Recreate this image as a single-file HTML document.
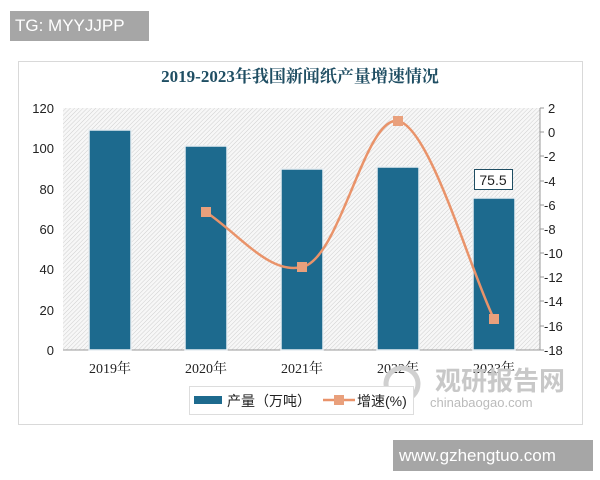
<!DOCTYPE html>
<html><head><meta charset="utf-8"><style>
body{margin:0;width:600px;height:480px;background:#fff;overflow:hidden;position:relative;font-family:"Liberation Sans","Noto Sans CJK SC",sans-serif}
.tg{position:absolute;left:10px;top:11px;width:139px;height:30px;background:#a6a6a6;color:#fff;font-size:17px;line-height:30px;padding-left:5px;box-sizing:border-box}
.ww{position:absolute;left:393px;top:440px;width:200px;height:31px;background:#a6a6a6;color:#fff;font-size:17px;line-height:31px;padding-left:6px;box-sizing:border-box}
</style></head><body>
<div class="tg">TG: MYYJJPP</div>
<svg width="600" height="480" style="position:absolute;left:0;top:0">
<defs><pattern id="h" width="3" height="3" patternUnits="userSpaceOnUse" patternTransform="rotate(45)"><rect width="3" height="3" fill="#f7f7f7"/><line x1="0" y1="0" x2="0" y2="3" stroke="#cfcfcf" stroke-width="1"/></pattern></defs>
<rect x="18.5" y="61.5" width="564" height="363" fill="#fff" stroke="#d9d9d9"/>
<text x="300" y="82" text-anchor="middle" font-family="Liberation Serif,Noto Serif CJK SC,serif" font-size="17" font-weight="bold" fill="#1f4e63">2019-2023年我国新闻纸产量增速情况</text>
<rect x="63" y="108" width="477" height="242" fill="url(#h)"/>
<line x1="63" y1="350" x2="540" y2="350" stroke="#999"/>
<line x1="540" y1="108" x2="540" y2="350" stroke="#999"/>
<g font-size="13" fill="#222" text-anchor="end">
<text x="54" y="113">120</text><text x="54" y="153">100</text><text x="54" y="194">80</text><text x="54" y="234">60</text><text x="54" y="274">40</text><text x="54" y="315">20</text><text x="54" y="355">0</text></g>
<g font-size="13" fill="#222">
<text x="548" y="113">2</text><text x="548" y="137">0</text><text x="544" y="161">-2</text><text x="544" y="186">-4</text><text x="544" y="210">-6</text><text x="544" y="234">-8</text><text x="544" y="258">-10</text><text x="544" y="282">-12</text><text x="544" y="306">-14</text><text x="544" y="331">-16</text><text x="544" y="355">-18</text></g>
<g stroke="#999"><line x1="540" y1="108" x2="544" y2="108"/><line x1="540" y1="132" x2="544" y2="132"/><line x1="540" y1="156" x2="544" y2="156"/><line x1="540" y1="181" x2="544" y2="181"/><line x1="540" y1="205" x2="544" y2="205"/><line x1="540" y1="229" x2="544" y2="229"/><line x1="540" y1="253" x2="544" y2="253"/><line x1="540" y1="277" x2="544" y2="277"/><line x1="540" y1="301" x2="544" y2="301"/><line x1="540" y1="326" x2="544" y2="326"/><line x1="540" y1="350" x2="544" y2="350"/></g>
<g fill="#1d6a8e" stroke="#e8eef2" stroke-width="1.5">
<rect x="89" y="130" width="42" height="220"/>
<rect x="185" y="146" width="42" height="204"/>
<rect x="281" y="169" width="42" height="181"/>
<rect x="377" y="167" width="42" height="183"/>
<rect x="473" y="198" width="42" height="152"/></g>
<path d="M206,212 C240,235 270,275 302,267 C340,260 365,115 398,121 C430,127 470,270 494,319" fill="none" stroke="#e9936a" stroke-width="2.5"/>
<g fill="#e9a07c"><rect x="201" y="207" width="10" height="10"/><rect x="297" y="262" width="10" height="10"/><rect x="393" y="116" width="10" height="10"/><rect x="489" y="314" width="10" height="10"/></g>
<rect x="474.5" y="169.5" width="38" height="20" fill="#fff" stroke="#1f4e63"/>
<text x="493" y="185" text-anchor="middle" font-size="14" fill="#222">75.5</text>
<g font-size="14" fill="#222" text-anchor="middle" font-family="Liberation Serif,Noto Serif CJK SC,serif">
<text x="110" y="373">2019年</text><text x="206" y="373">2020年</text><text x="302" y="373">2021年</text><text x="398" y="373">2022年</text><text x="494" y="373">2023年</text></g>
<text x="500" y="390" text-anchor="middle" font-size="26" font-weight="bold" fill="#c8c8c8">观研报告网</text>
<text x="430" y="407" font-size="13" fill="#bbb">chinabaogao.com</text>
<circle cx="402" cy="384" r="16" fill="none" stroke="#d0d0d0" stroke-width="5"/>
<rect x="189.5" y="386.5" width="224" height="28" fill="#fff" stroke="#ddd"/>
<rect x="194" y="396" width="28" height="8" fill="#1d6a8e"/>
<text x="227" y="406" font-size="14" fill="#222">产量（万吨）</text>
<line x1="323" y1="400" x2="355" y2="400" stroke="#e9936a" stroke-width="2.5"/>
<rect x="334" y="395" width="10" height="10" fill="#e9a07c"/>
<text x="357" y="406" font-size="14" fill="#222">增速(%)</text>
</svg>
<div class="ww">www.gzhengtuo.com</div>
</body></html>
